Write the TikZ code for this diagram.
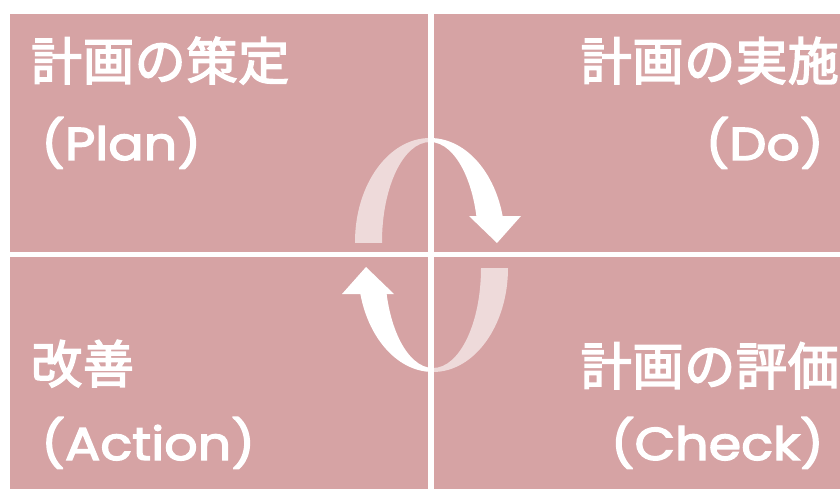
\documentclass[tikz,border=0pt]{standalone}
\usepackage{fontspec}
\setmainfont{Noto Sans CJK JP}
\newfontfamily\jpfont{Noto Sans CJK JP}[FakeBold=3,LetterSpace=1.5]
\newfontfamily\latinfont{Poppins}[FakeStretch=1.14,FakeBold=3]
\definecolor{quad}{RGB}{214,163,164}
\begin{document}
\begin{tikzpicture}[x=1pt,y=-1pt,
  jp/.style={text=white,font=\jpfont\fontsize{51}{51}\selectfont,inner sep=0pt},
  lat/.style={text=white,font=\latinfont\fontsize{46}{46}\selectfont,inner sep=0pt},
  lightband/.style={fill=white,fill opacity=0.6,even odd rule},
  solidband/.style={fill=white,even odd rule}]
\useasboundingbox (0,0) rectangle (840,489);
\fill[white] (0,0) rectangle (840,489);
% quadrants
\fill[quad] (10,14) rectangle (428,252);
\fill[quad] (434,14) rectangle (840,252);
\fill[quad] (10,257) rectangle (428,489);
\fill[quad] (434,257) rectangle (840,489);
% labels
\node[jp,anchor=base west] (planjp) at (31,80) {計画の策定};
\node[lat,anchor=base west] (planen) at (41,160) {(Plan)};
\node[jp,anchor=base east] (dojp) at (839,80) {計画の実施};
\node[lat,anchor=base east] (doen) at (824,160) {(Do)};
\node[jp,anchor=base west] (actjp) at (31,383) {改善};
\node[lat,anchor=base west] (acten) at (41,460) {(Action)};
\node[jp,anchor=base east] (chkjp) at (839,385) {計画の評価};
\node[lat,anchor=base east] (chken) at (824,460) {(Check)};
% upper arrow
\begin{scope}
  \clip (350,100) rectangle (430,242);
  \path[lightband] (430,242) ellipse [x radius=75pt, y radius=104pt]
                   (430,242) ellipse [x radius=48pt, y radius=100pt];
\end{scope}
\begin{scope}
  \clip (430,100) rectangle (515,218);
  \path[solidband] (430,242) ellipse [x radius=75pt, y radius=104pt]
                   (430,242) ellipse [x radius=48pt, y radius=100pt];
\end{scope}
\fill[white] (469,216) -- (521,216) -- (497,243) -- cycle;
% lower arrow
\begin{scope}
  \clip (433,268) rectangle (515,410);
  \path[lightband] (433,268) ellipse [x radius=75pt, y radius=104pt]
                   (433,268) ellipse [x radius=48pt, y radius=100pt];
\end{scope}
\begin{scope}
  \clip (350,292) rectangle (433,410);
  \path[solidband] (433,268) ellipse [x radius=75pt, y radius=104pt]
                   (433,268) ellipse [x radius=48pt, y radius=100pt];
\end{scope}
\fill[white] (342,294) -- (394,294) -- (366,267) -- cycle;
\end{tikzpicture}
\end{document}
